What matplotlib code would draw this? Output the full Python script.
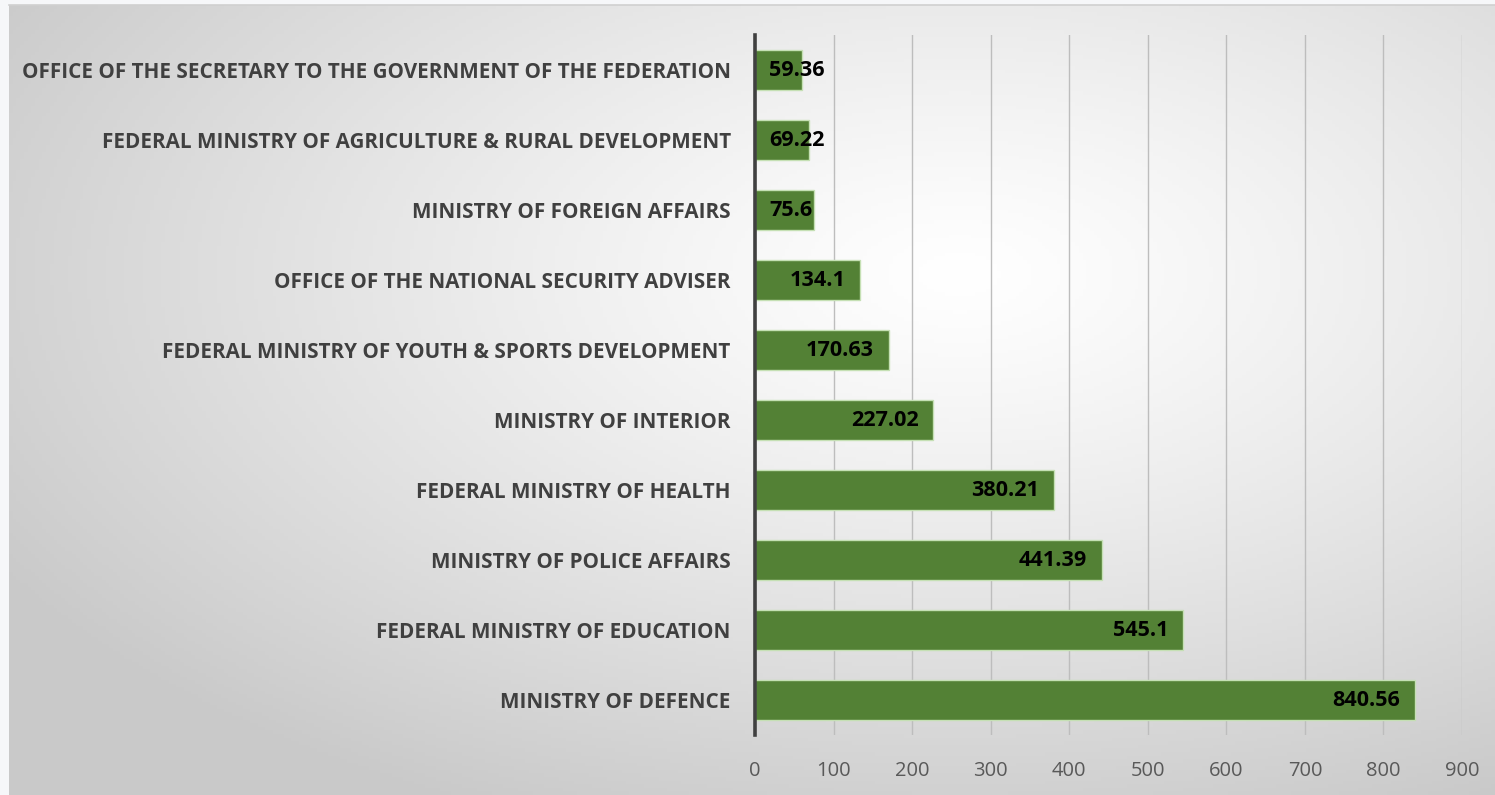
import numpy as np
import matplotlib
matplotlib.use("Agg")
import matplotlib.pyplot as plt
from matplotlib.transforms import offset_copy

categories = [
    "OFFICE OF THE SECRETARY TO THE GOVERNMENT OF THE FEDERATION",
    "FEDERAL MINISTRY OF AGRICULTURE & RURAL DEVELOPMENT",
    "MINISTRY OF FOREIGN AFFAIRS",
    "OFFICE OF THE NATIONAL SECURITY ADVISER",
    "FEDERAL MINISTRY OF YOUTH & SPORTS DEVELOPMENT",
    "MINISTRY OF INTERIOR",
    "FEDERAL MINISTRY OF HEALTH",
    "MINISTRY OF POLICE AFFAIRS",
    "FEDERAL MINISTRY OF EDUCATION",
    "MINISTRY OF DEFENCE",
]
values = [59.36, 69.22, 75.6, 134.1, 170.63, 227.02, 380.21, 441.39, 545.1, 840.56]
value_labels = ["59.36", "69.22", "75.6", "134.1", "170.63", "227.02", "380.21", "441.39", "545.1", "840.56"]
xticks = [0, 100, 200, 300, 400, 500, 600, 700, 800, 900]

W, H = 1495, 795
fig = plt.figure(figsize=(W / 100, H / 100), dpi=100)
fig.patch.set_facecolor("#f6f7f9")

# background gradient panel
bg = fig.add_axes([9 / W, 0, 1 - 9 / W, (H - 5) / H])
bg.set_axis_off()
gw, gh = 400, 220
xx, yy = np.meshgrid(np.linspace(0, 1, gw), np.linspace(0, 1, gh))
cx, cy = 0.64, 0.66
r = np.sqrt(((xx - cx) / 0.75) ** 2 + ((yy - cy) / 0.75) ** 2)
r = np.clip(r, 0, 1)
lum = 1.0 - 0.21 * r ** 1.2
img = np.dstack([lum, lum, lum])
bg.imshow(img, extent=[0, 1, 0, 1], origin="lower", aspect="auto")
bg.set_xlim(0, 1); bg.set_ylim(0, 1)
fig.add_artist(plt.Line2D([9 / W, 1], [(H - 5) / H, (H - 5) / H], transform=fig.transFigure,
                          color="#d0d0d0", lw=1.2))

left_px, right_px, top_px, bot_px = 755, 1462, 35, 735
ax = fig.add_axes([left_px / W, (H - bot_px) / H, (right_px - left_px) / W, (bot_px - top_px) / H])
ax.patch.set_alpha(0)

y = np.arange(len(categories))
ax.barh(y, values, height=0.57, color="#538135", edgecolor="#c5e0b4", linewidth=1.0, zorder=3)
ax.set_ylim(len(categories) - 0.5, -0.5)
ax.set_xlim(0, 900)
ax.set_xticks(xticks)
ax.set_xticklabels([str(t) for t in xticks])
ax.set_yticks(y)
ax.set_yticklabels(categories, fontfamily="Open Sans", fontweight="bold", fontsize=14.85, color="#404040")
ax.tick_params(axis="y", length=0, pad=17.5)
ax.tick_params(axis="x", length=0, pad=19, labelsize=14.5, labelcolor="#595959")
for lbl in ax.get_xticklabels():
    lbl.set_fontfamily("Open Sans")
ax.grid(axis="x", color="#bdbdbd", linewidth=1.0, zorder=0)
for s in ["top", "right", "bottom"]:
    ax.spines[s].set_visible(False)
ax.spines["left"].set_color("#404040")
ax.spines["left"].set_linewidth(2.6)
ax.spines["left"].set_zorder(4)

fig.canvas.draw()
renderer = fig.canvas.get_renderer()
vfs = 15.6
for yi, v, s in zip(y, values, value_labels):
    tr = offset_copy(ax.transData, fig=fig, x=-15 * 0.72, y=0, units="points")
    t = ax.text(v, yi, s, ha="right", va="center", fontfamily="Open Sans", fontweight="bold",
                fontsize=vfs, color="black", transform=tr, zorder=5)
    bb = t.get_window_extent(renderer)
    x0_disp = ax.transData.transform((0, 0))[0]
    if bb.x0 < x0_disp + 13:
        t.remove()
        tr2 = offset_copy(ax.transData, fig=fig, x=14 * 0.72, y=0, units="points")
        ax.text(0, yi, s, ha="left", va="center", fontfamily="Open Sans", fontweight="bold",
                fontsize=vfs, color="black", transform=tr2, zorder=5)

fig.savefig("out.png", dpi=100, facecolor=fig.get_facecolor())
